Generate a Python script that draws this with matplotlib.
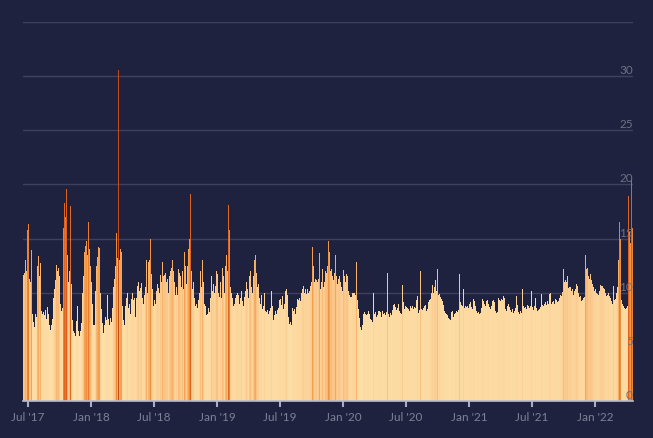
import numpy as np
import pandas as pd
import matplotlib
matplotlib.use('Agg')
import matplotlib.pyplot as plt
import matplotlib.dates as mdates
from matplotlib.colors import LinearSegmentedColormap, Normalize

# daily index values (one value per ~3 days)
values_2017_18 = [
    11.6, 11.8, 13.0, 12.0, 15.8, 16.3, 11.3, 11.0, 13.9, 8.0,
    7.3, 6.8, 8.0, 7.8, 12.5, 13.4, 11.5, 12.7, 8.3, 8.0,
    8.2, 7.9, 8.4, 7.6, 8.7, 8.0, 7.0, 6.6, 7.0, 7.6,
    9.5, 10.3, 11.2, 12.6, 12.0, 12.3, 11.5, 9.0, 8.3, 8.6,
    16.0, 18.3, 17.0, 19.6, 13.5, 11.0, 12.0, 18.0, 10.8, 7.5,
    6.5, 6.3, 6.0, 7.4, 8.8, 6.5, 6.0, 6.5, 7.2, 10.0,
    11.5, 13.8, 14.3, 14.8, 13.5, 16.5, 14.0, 12.5, 11.0, 9.0,
    7.0, 7.0, 10.2, 12.5, 13.3, 14.2, 14.1, 10.0, 8.5, 7.2,
    6.3, 7.0, 7.8, 7.5, 9.8, 7.6, 7.0, 7.7, 7.3, 8.6,
    10.5, 11.3, 12.5, 15.5, 13.2, 30.6, 13.0, 14.0, 13.8, 8.8,
    7.5, 7.0, 8.8, 9.5, 10.0, 8.6, 9.0, 8.0, 9.4, 10.0,
    9.3, 9.5, 7.8, 9.5, 10.6, 11.0, 10.2,
]
values_2018_19 = [
    10.4, 10.9, 9.5, 9.0, 9.8, 10.5, 13.0, 10.0, 12.8, 13.0,
    15.0, 11.7, 10.3, 8.8, 9.3, 9.0, 10.2, 10.8, 10.4, 10.0,
    11.6, 11.0, 12.8, 11.5, 11.6, 11.8, 11.0, 11.3, 10.0, 11.5,
    12.0, 12.3, 13.0, 12.0, 11.0, 9.8, 10.5, 9.8, 12.2, 11.8,
    11.5, 10.5, 12.0, 10.3, 13.8, 12.5, 10.8, 12.5, 14.0, 15.0,
    19.1, 12.0, 10.3, 11.0, 9.5, 8.8, 9.0, 8.6, 9.3, 10.0,
    12.0, 10.5, 13.0, 11.0, 9.0, 8.8, 7.9, 8.0, 8.6, 8.2,
    9.5, 11.5, 10.2, 10.8, 10.0, 10.6, 12.0, 11.7, 10.0, 9.6,
    11.0, 9.5, 12.3, 11.5, 10.0, 12.5, 13.5, 12.0, 18.1, 15.8,
    10.5, 10.0, 9.5, 8.8, 9.0, 9.5, 9.8, 10.0, 9.8, 9.0,
    9.5, 10.2, 9.2, 8.8, 9.6, 10.2, 11.0, 10.3, 9.5, 11.5,
    12.0, 10.5, 10.0, 11.5, 13.0, 13.5, 11.8, 10.5, 10.8, 9.5,
    9.0, 9.8, 8.5, 8.8, 10.0,
]
values_2019_20 = [
    8.3, 8.2, 8.4, 8.0, 8.3, 8.6, 10.2, 8.8, 7.5, 7.9,
    8.3, 8.0, 8.4, 8.6, 9.3, 9.4, 8.9, 9.7, 8.5, 9.0,
    10.2, 10.3, 9.8, 7.8, 7.1, 7.3, 7.0, 8.6, 8.3, 8.5,
    8.0, 8.7, 9.4, 9.3, 9.5, 9.2, 10.0, 10.3, 10.6, 10.0,
    10.3, 9.9, 10.3, 10.0, 10.2, 10.6, 11.0, 14.2, 12.5, 11.0,
    11.3, 11.2, 11.0, 11.3, 13.7, 10.3, 11.0, 12.2, 10.5, 11.0,
    12.0, 11.8, 12.5, 14.8, 13.8, 12.0, 12.2, 11.5, 11.2, 11.8,
    13.5, 11.5, 10.8, 11.3, 11.5, 11.0, 10.5, 10.2, 12.1, 11.5,
    11.0, 11.7, 11.5, 10.2, 9.8, 9.6, 9.6, 10.0, 10.0, 10.0,
    9.8, 12.8, 9.3, 8.5, 7.7, 6.8, 6.6, 7.0, 8.0, 8.2,
    8.0, 7.9, 8.0, 8.3, 8.0, 7.6, 7.5, 7.3, 10.0, 8.0,
    8.2, 7.8, 7.9, 8.3, 8.3, 8.2, 7.8, 8.3, 8.0, 8.1,
]
values_2020_21 = [
    7.9, 8.2, 11.8, 8.0, 7.8, 8.1, 7.9, 8.4, 8.9, 9.0,
    8.7, 8.4, 8.6, 9.0, 8.3, 8.1, 8.0, 10.7, 9.1, 8.5,
    8.8, 8.7, 8.6, 8.5, 8.3, 8.8, 8.6, 8.8, 8.5, 8.7,
    8.6, 9.3, 9.7, 8.1, 8.4, 12.0, 8.5, 8.4, 8.6, 8.8,
    8.9, 8.3, 8.5, 9.1, 9.3, 9.4, 10.0, 10.7, 10.0, 10.5,
    11.2, 10.2, 12.2, 9.8, 9.9, 9.6, 9.4, 9.2, 8.9, 8.3,
    8.1, 8.0, 7.9, 7.7, 7.6, 7.5, 8.2, 8.3, 7.8, 8.0,
    8.1, 8.3, 8.2, 8.4, 11.7, 9.1, 8.9, 8.8, 10.3, 8.6,
    8.8, 8.7, 8.8, 8.6, 9.0, 9.1, 8.7, 8.5, 9.4, 9.2,
    8.8, 8.3, 8.1, 8.2, 8.0, 8.1, 8.6, 9.4, 9.2, 9.0,
    8.8, 9.2, 9.3, 9.0, 8.7, 8.5, 8.8, 9.2, 9.3, 9.1,
    8.3, 8.1, 8.2, 9.5, 9.3, 9.2, 9.4, 9.3, 9.7, 9.5,
]
values_2021_22 = [
    8.5, 8.3, 8.8, 9.0, 8.7, 8.4, 8.2, 8.5, 8.1, 8.3,
    8.6, 9.7, 8.9, 8.2, 8.0, 8.3, 8.1, 10.3, 8.8, 8.6,
    8.7, 8.5, 8.9, 8.8, 8.6, 8.8, 10.2, 8.7, 8.4, 8.8,
    9.5, 8.6, 8.3, 8.4, 8.5, 8.7, 9.9, 8.9, 8.8, 9.0,
    9.1, 8.9, 9.2, 9.0, 9.9, 10.0, 9.0, 9.1, 9.2, 9.0,
    9.4, 9.3, 9.1, 9.2, 9.5, 9.8, 9.7, 10.1, 12.2, 11.0,
    11.2, 11.0, 11.5, 10.4, 10.5, 10.5, 10.2, 10.3, 9.8, 10.2,
    10.3, 10.8, 10.6, 10.0, 9.6, 9.7, 9.2, 9.3, 9.5, 9.6,
    13.5, 12.2, 12.3, 11.5, 11.3, 11.7, 11.2, 10.8, 10.5, 10.2,
    10.3, 10.0, 9.9, 9.8, 10.2, 10.7, 10.6, 10.6, 10.4, 10.3,
    10.0, 9.7, 9.8, 10.0, 9.7, 9.5, 9.2, 9.0, 10.6, 9.3,
    9.4, 10.0, 10.5, 13.0, 16.5, 15.0, 9.3, 9.0, 8.8, 8.6,
    8.5, 8.6, 8.8, 18.9, 15.6, 14.6, 20.5, 16.0,
]
values = np.array(values_2017_18 + values_2018_19 + values_2019_20
                  + values_2020_21 + values_2021_22)

start_date = '2017-06-16 12:00'
end_date = '2022-04-21'
tick_dates = pd.date_range('2017-07-01', '2022-01-01', freq='6MS')
y_labels = [0, 5, 10, 15, 20, 25, 30]

bg = '#1f223e'
cmap = LinearSegmentedColormap.from_list('peach', [
    (0.00, '#fde0aa'), (0.14, '#fcd89e'), (0.22, '#fac68a'), (0.30, '#f6a85a'),
    (0.38, '#ef8a34'), (0.50, '#e0621c'), (1.00, '#c24a18')])
norm = Normalize(vmin=6, vmax=31)

edges = mdates.date2num(pd.date_range(start_date, end_date, periods=len(values) + 1))
widths = np.diff(edges)

fig = plt.figure(figsize=(6.53, 4.38), dpi=100, facecolor=bg)
ax = fig.add_axes([23 / 653, 1 - 401 / 438, 610 / 653, 379 / 438])
ax.set_facecolor(bg)

ax.bar(edges[:-1], values, width=widths, align='edge',
       color=cmap(norm(values)), linewidth=0, zorder=2)

ax.set_xlim(edges[0], edges[-1])
ax.set_ylim(0, 35)

ax.set_yticks(np.arange(0, 36, 5))
ax.yaxis.grid(True, color='#3e4160', linewidth=1)
ax.set_axisbelow(True)
ax.tick_params(axis='y', length=0, labelleft=False)
for v in y_labels:
    ax.text(1.0, v, str(v), transform=ax.get_yaxis_transform(),
            ha='right', va='bottom', color='#6e7184', fontsize=8.5,
            family='Lato', zorder=5)

ax.set_xticks(mdates.date2num(tick_dates))
ax.set_xticklabels([d.strftime("%b '%y") for d in tick_dates], family='Lato')
ax.tick_params(axis='x', length=4, width=1.5, color='#a9adc2',
               labelcolor='#7d8096', labelsize=8.5, pad=4)

for side in ['top', 'right', 'left']:
    ax.spines[side].set_visible(False)
ax.spines['bottom'].set_color('#b8bccf')
ax.spines['bottom'].set_linewidth(1.2)
ax.spines['bottom'].set_zorder(3)

fig.savefig('out.png', dpi=100, facecolor=bg)
